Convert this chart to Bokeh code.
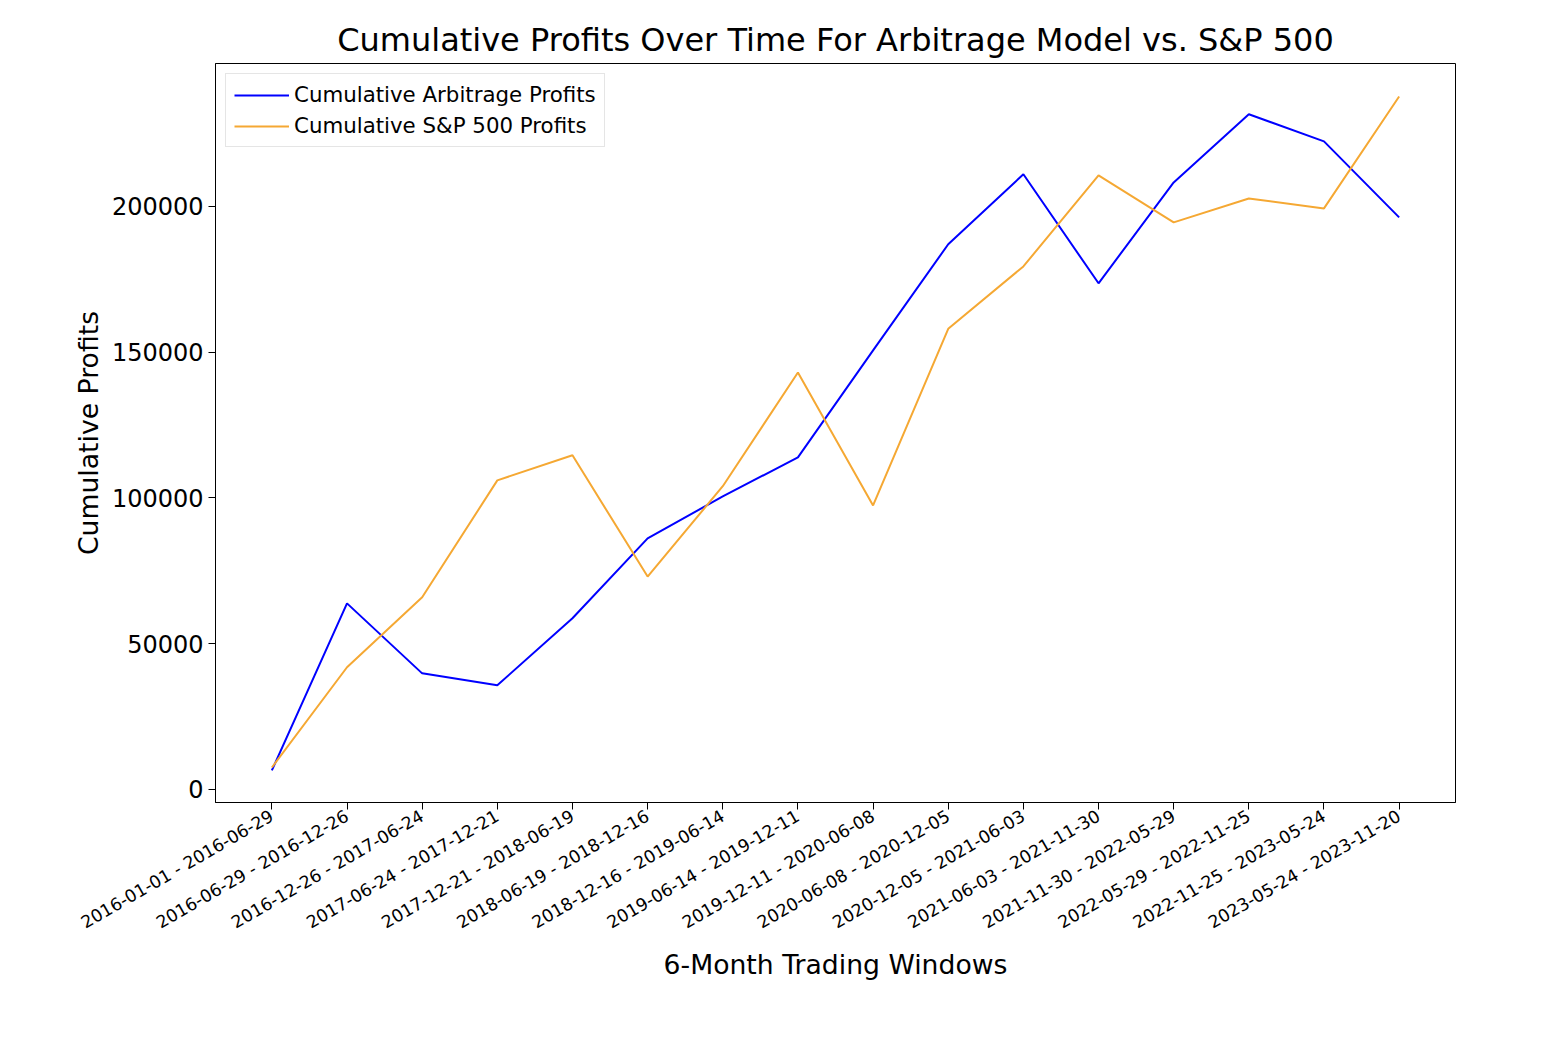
import math
from bokeh.plotting import figure
from bokeh.models import FixedTicker, Range1d, Legend, LegendItem, NumeralTickFormatter
from bokeh.embed import file_html
from bokeh.resources import INLINE

windows = ["2016-01-01 - 2016-06-29", "2016-06-29 - 2016-12-26", "2016-12-26 - 2017-06-24",
           "2017-06-24 - 2017-12-21", "2017-12-21 - 2018-06-19", "2018-06-19 - 2018-12-16",
           "2018-12-16 - 2019-06-14", "2019-06-14 - 2019-12-11", "2019-12-11 - 2020-06-08",
           "2020-06-08 - 2020-12-05", "2020-12-05 - 2021-06-03", "2021-06-03 - 2021-11-30",
           "2021-11-30 - 2022-05-29", "2022-05-29 - 2022-11-25", "2022-11-25 - 2023-05-24",
           "2023-05-24 - 2023-11-20"]
arbitrage = [6500, 63800, 39800, 35700, 58700, 86100, 100500, 113900, 150600, 187000,
             211000, 173600, 208200, 231600, 222300, 196200]
sp500 = [7500, 41900, 65900, 106000, 114600, 73000, 104000, 143000, 97400, 158000,
         179400, 210600, 194500, 202700, 199300, 237700]

xs = list(range(len(windows)))

p = figure(width=1500, height=1020, output_backend="svg", toolbar_location=None,
           x_range=Range1d(-0.75, 15.75), y_range=Range1d(-4500, 249000),
           min_border_left=215, min_border_right=45, min_border_top=63, min_border_bottom=218)
p.title.text = "Cumulative Profits Over Time For Arbitrage Model vs. S&P 500"
p.title.align = "center"
p.title.text_font = "DejaVu Sans"
p.title.text_font_size = "24pt"
p.title.text_font_style = "normal"
p.title.text_color = "black"
p.grid.visible = False
p.outline_line_color = "black"

r1 = p.line(xs, arbitrage, line_color="blue", line_width=2)
r2 = p.line(xs, sp500, line_color="#f5a833", line_width=2)

p.xaxis.ticker = FixedTicker(ticks=xs)
p.xaxis.major_label_overrides = {i: w for i, w in enumerate(windows)}
p.xaxis.major_label_orientation = math.radians(30)
p.xaxis.major_label_text_font_size = "13pt"
p.yaxis.ticker = FixedTicker(ticks=[0, 50000, 100000, 150000, 200000])
p.yaxis.formatter = NumeralTickFormatter(format="0")
p.yaxis.major_label_text_font_size = "18pt"
for ax in (p.xaxis, p.yaxis):
    ax.major_label_text_font = "DejaVu Sans"
    ax.major_label_text_color = "black"
    ax.minor_tick_line_color = None
    ax.major_tick_in = 0
    ax.major_tick_out = 7
    ax.axis_label_text_font = "DejaVu Sans"
    ax.axis_label_text_font_size = "20pt"
    ax.axis_label_text_font_style = "normal"
    ax.axis_label_text_color = "black"
p.xaxis.axis_label = "6-Month Trading Windows"
p.xaxis.axis_label_standoff = 5
p.yaxis.axis_label = "Cumulative Profits"

legend = Legend(items=[LegendItem(label="Cumulative Arbitrage Profits", renderers=[r1]),
                       LegendItem(label="Cumulative S&P 500 Profits", renderers=[r2])],
                location="top_left", label_text_font="DejaVu Sans", label_text_font_size="16pt",
                label_text_color="black",
                border_line_color="#cccccc", glyph_width=55, margin=10, padding=8, spacing=6)
p.add_layout(legend)

open("out.html", "w").write(file_html(p, INLINE))
